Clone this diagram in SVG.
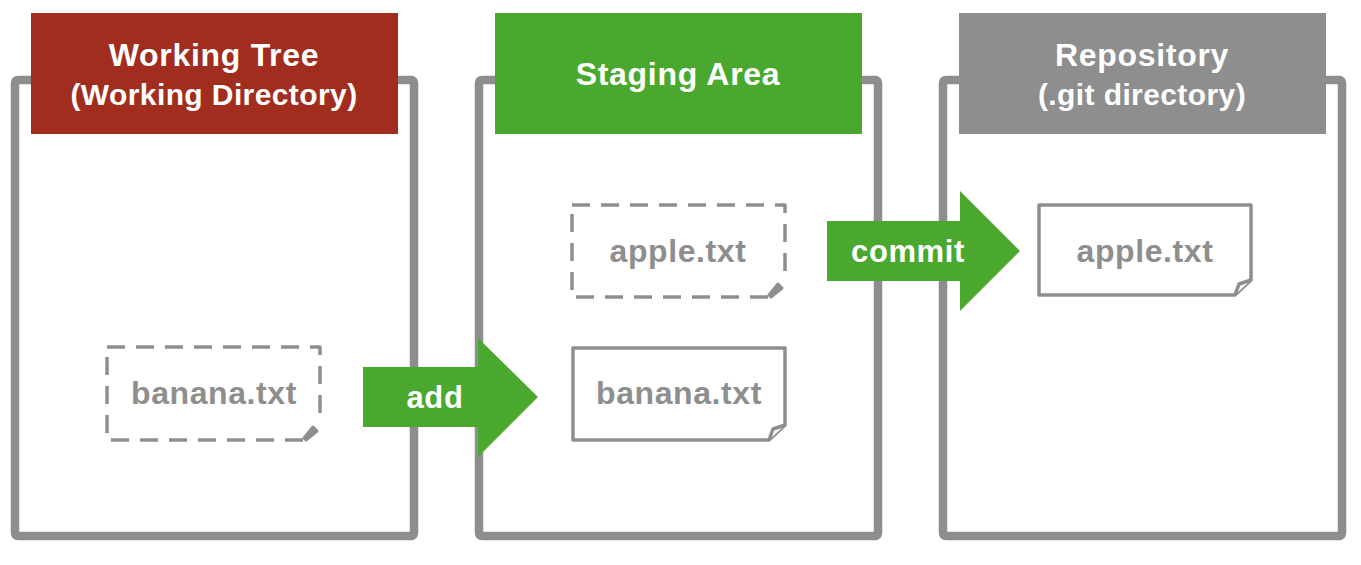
<svg xmlns="http://www.w3.org/2000/svg" width="1361" height="565" viewBox="0 0 1361 565">
<style>
.box{fill:#fff;stroke:#8e8e8e;stroke-width:8.5;stroke-linejoin:round}
.file{fill:#fff;stroke:#8e8e8e;stroke-width:3.5;stroke-linejoin:round}
.dash{stroke-dasharray:18 11}
.fold{fill:#8e8e8e;stroke:#8e8e8e;stroke-width:3;stroke-linejoin:round}
.h1{font-family:"Liberation Sans",Arial,sans-serif;font-weight:bold;font-size:32px;letter-spacing:0.7px;fill:#fff;text-anchor:middle}
.h2{font-family:"Liberation Sans",Arial,sans-serif;font-weight:bold;font-size:30px;letter-spacing:0.4px;fill:#fff;text-anchor:middle}
.ft{font-family:"Liberation Sans",Arial,sans-serif;font-weight:bold;font-size:32px;letter-spacing:0.6px;fill:#8e8e8e;text-anchor:middle}
.at{font-family:"Liberation Sans",Arial,sans-serif;font-weight:bold;font-size:31px;letter-spacing:0.6px;fill:#fff;text-anchor:middle}
.arrow{fill:#4aa82f}
</style>
<g id="working-tree">
<rect class="box" x="15" y="80" width="399" height="456" rx="3"/>
<rect x="31" y="13" width="367" height="121" fill="#a12d1e"/>
<text class="h1" x="214" y="66">Working Tree</text>
<text class="h2" x="214" y="105">(Working Directory)</text>
</g>
<g id="staging-area">
<rect class="box" x="479" y="80" width="399" height="456" rx="3"/>
<rect x="495" y="13" width="367" height="121" fill="#4aa82f"/>
<text class="h1" x="678" y="85">Staging Area</text>
</g>
<g id="repository">
<rect class="box" x="943" y="80" width="399" height="456" rx="3"/>
<rect x="959" y="13" width="367" height="121" fill="#8e8e8e"/>
<text class="h1" x="1142" y="66">Repository</text>
<text class="h2" x="1142" y="105">(.git directory)</text>
</g>
<g id="banana-working">
<path class="file dash" d="M107,347 H320 V424 M303,440 H107 V347"/>
<path class="fold" d="M313,427 L317,431 L306,440 L304,438 Z"/>
<text class="ft" x="214" y="404">banana.txt</text>
</g>
<g id="apple-staged">
<path class="file dash" d="M572,205 H785 V282 M768,297 H572 V205"/>
<path class="fold" d="M778,284 L782,288 L771,297 L769,295 Z"/>
<text class="ft" x="678" y="262">apple.txt</text>
</g>
<g id="banana-staged">
<path class="file" d="M573,348 H785 V425 L769,440 H573 Z"/>
<path class="file" d="M785,425 L773,429 L769,440"/>
<text class="ft" x="679" y="404">banana.txt</text>
</g>
<g id="apple-repo">
<path class="file" d="M1039,205 H1251 V280 L1235,295 H1039 Z"/>
<path class="file" d="M1251,280 L1239,284 L1235,295"/>
<text class="ft" x="1145" y="262">apple.txt</text>
</g>
<g id="connectors">
<g id="add-arrow">
<path class="arrow" d="M363,367 H478 V338 L538,397 L478,457 V427 H363 Z"/>
<text class="at" x="435" y="408">add</text>
</g>
<g id="commit-arrow">
<path class="arrow" d="M827,221 H960 V191 L1020,251 L960,311 V281 H827 Z"/>
<text class="at" x="908" y="262">commit</text>
</g>
</g>
</svg>
